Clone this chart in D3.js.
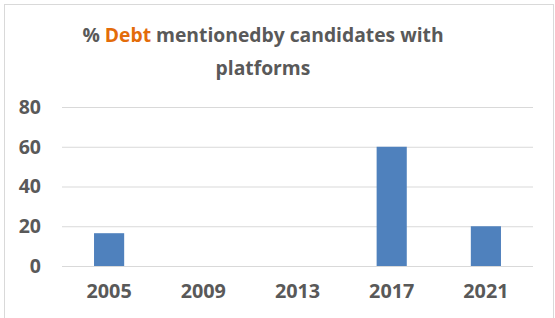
<html>
<head>
<script src="https://d3js.org/d3.v7.min.js"></script>
<style>
  body { margin: 0; background: #fff; }
  text { font-family: "Open Sans", sans-serif; font-weight: bold; }
</style>
</head>
<body>
<div id="chart"></div>
<script>
var years = ["2005", "2009", "2013", "2017", "2021"];
var values = [16.5, 0, 0, 60, 20];
var yTicks = [0, 20, 40, 60, 80];

var W = 555, H = 318;
var margin = {top: 107, right: 22, bottom: 52, left: 62};

var svg = d3.select("#chart").append("svg")
  .attr("width", W).attr("height", H);

// outer chart border
svg.append("rect")
  .attr("x", 4.5).attr("y", 4.5)
  .attr("width", W - 6).attr("height", H + 10)
  .attr("fill", "#fff").attr("stroke", "#d9d9d9");

var x = d3.scaleBand().domain(years)
  .range([margin.left, W - margin.right])
  .paddingInner(0.68).paddingOuter(0.34);
var y = d3.scaleLinear().domain([0, 80])
  .range([266, margin.top]);

// gridlines
svg.append("g").selectAll("line")
  .data(yTicks).enter().append("line")
  .attr("x1", margin.left).attr("x2", W - margin.right)
  .attr("y1", function(d){ return y(d) + 0.5; })
  .attr("y2", function(d){ return y(d) + 0.5; })
  .attr("stroke", "#d9d9d9").attr("stroke-width", 1);

// bars
svg.append("g").selectAll("rect")
  .data(values).enter().append("rect")
  .attr("x", function(d, i){ return x(years[i]); })
  .attr("y", function(d){ return y(d); })
  .attr("width", x.bandwidth())
  .attr("height", function(d){ return y(0) - y(d); })
  .attr("fill", "#4f81bd");

// y axis labels
var yAxis = d3.axisLeft(y).tickValues(yTicks).tickSize(0).tickPadding(0);
var yg = svg.append("g").attr("transform", "translate(41,0)").call(yAxis);
yg.select(".domain").remove();
yg.selectAll("text").attr("fill", "#595959").style("font-size", "19.5px")
  .style("font-family", "Open Sans").style("font-weight", "bold");

// x axis labels
var xAxis = d3.axisBottom(x).tickSize(0).tickPadding(0);
var xg = svg.append("g").attr("transform", "translate(0,284)").call(xAxis);
xg.select(".domain").remove();
xg.selectAll("text").attr("fill", "#595959").style("font-size", "19.8px")
  .style("font-family", "Open Sans").style("font-weight", "bold");

// title
var title = svg.append("text")
  .attr("text-anchor", "middle").attr("x", 263).attr("y", 42)
  .attr("fill", "#595959").style("font-size", "19.3px");
title.append("tspan").text("% ");
title.append("tspan").attr("fill", "#e36c0a").text("Debt");
title.append("tspan").text(" mentionedby candidates with");
svg.append("text")
  .attr("text-anchor", "middle").attr("x", 263).attr("y", 75)
  .attr("fill", "#595959").style("font-size", "19.3px")
  .text("platforms");
</script>
</body>
</html>
